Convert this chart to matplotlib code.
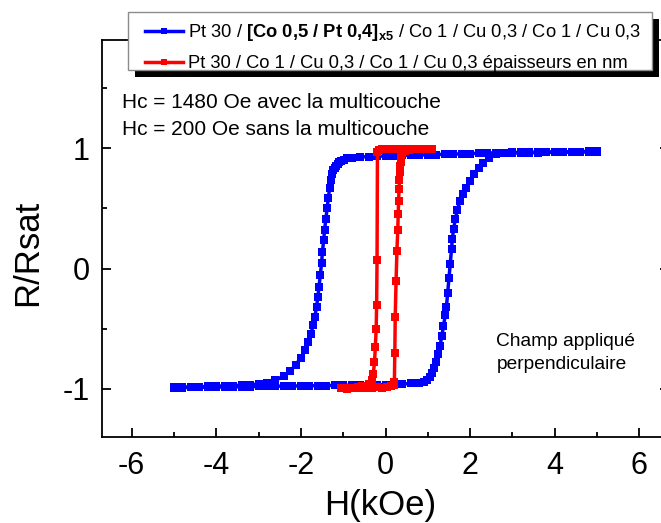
import matplotlib

matplotlib.use("Agg")
import matplotlib.pyplot as plt  # noqa: E402
from matplotlib.lines import Line2D  # noqa: E402
from matplotlib.patches import Rectangle  # noqa: E402
from matplotlib.ticker import MultipleLocator  # noqa: E402

W, H = 661, 523
DPI = 100
BLUE, RED = "#0000ff", "#ff0000"

# multilayer sample, field sweep down then up (kOe, R/Rsat)
blue_down_h = [5.0, 4.8, 4.6, 4.4, 4.2, 4.0, 3.8, 3.6, 3.4, 3.2, 3.0, 2.8, 2.6, 2.4, 2.2,
               2.0, 1.8, 1.6, 1.4, 1.2, 1.0, 0.8, 0.6, 0.4, 0.2, 0.0, -0.2, -0.4, -0.6, -0.8,
               -0.9, -0.98, -1.04, -1.09, -1.13, -1.17, -1.20, -1.23, -1.26, -1.29, -1.32,
               -1.35, -1.38, -1.41, -1.44, -1.46, -1.49, -1.51, -1.54, -1.57, -1.60, -1.63,
               -1.67, -1.71, -1.76, -1.82, -1.90, -2.00, -2.12, -2.25, -2.40, -2.60, -2.80,
               -3.0, -3.2, -3.4, -3.6, -3.8, -4.0, -4.2, -4.4, -4.6, -4.8, -5.0]
blue_down_r = [0.975, 0.974, 0.973, 0.972, 0.971, 0.970, 0.969, 0.968, 0.967, 0.966, 0.965,
               0.963, 0.962, 0.960, 0.958, 0.956, 0.954, 0.952, 0.950, 0.948, 0.946, 0.944,
               0.942, 0.940, 0.938, 0.936, 0.934, 0.931, 0.927, 0.921,
               0.915, 0.905, 0.895, 0.885, 0.87, 0.855, 0.84, 0.82, 0.79, 0.74, 0.67,
               0.59, 0.50, 0.41, 0.32, 0.24, 0.14, 0.05, -0.05, -0.15, -0.24, -0.32,
               -0.40, -0.47, -0.54, -0.61, -0.68, -0.74, -0.80, -0.85, -0.89, -0.93, -0.95,
               -0.960, -0.965, -0.970, -0.972, -0.975, -0.977, -0.980, -0.982, -0.984,
               -0.986, -0.988]

blue_up_h = [-5.0, -4.8, -4.6, -4.4, -4.2, -4.0, -3.8, -3.6, -3.4, -3.2, -3.0, -2.8, -2.6,
             -2.4, -2.2, -2.0, -1.8, -1.6, -1.4, -1.2, -1.0, -0.8, -0.6, -0.4, -0.2, 0.0,
             0.2, 0.4, 0.6, 0.8,
             0.90, 0.97, 1.04, 1.10, 1.15, 1.20, 1.25, 1.29, 1.33, 1.37, 1.41, 1.44, 1.47,
             1.50, 1.53, 1.56, 1.58, 1.61, 1.65, 1.70, 1.76, 1.83, 1.91, 2.00, 2.10, 2.20,
             2.30, 2.45, 2.62, 2.80,
             3.0, 3.2, 3.4, 3.6, 3.8, 4.0, 4.2, 4.4, 4.6, 4.8, 5.0]
blue_up_r = [-0.990, -0.989, -0.988, -0.987, -0.986, -0.985, -0.984, -0.983, -0.982, -0.981,
             -0.980, -0.979, -0.978, -0.977, -0.976, -0.975, -0.974, -0.973, -0.972, -0.971,
             -0.970, -0.969, -0.968, -0.967, -0.966, -0.965, -0.963, -0.960, -0.955, -0.948,
             -0.94, -0.925, -0.90, -0.87, -0.83, -0.78, -0.71, -0.64, -0.56, -0.48, -0.39,
             -0.32, -0.20, -0.08, 0.04, 0.16, 0.25, 0.33, 0.41, 0.49, 0.56, 0.62, 0.67,
             0.73, 0.79, 0.84, 0.88, 0.92, 0.95, 0.957,
             0.960, 0.962, 0.963, 0.964, 0.965, 0.966, 0.967, 0.968, 0.969, 0.970, 0.972]

# reference sample without multilayer
red_down_h = [1.10, 0.95, 0.80, 0.65, 0.50, 0.35, 0.20, 0.05, -0.08, -0.16, -0.19, -0.20,
              -0.21, -0.22, -0.24, -0.26, -0.29, -0.32, -0.38, -0.46, -0.56, -0.66, -0.76,
              -0.86, -0.95, -1.04]
red_down_r = [0.995, 0.993, 0.995, 0.992, 0.994, 0.993, 0.99, 0.992, 0.99, 0.985, 0.97, 0.07,
              -0.30, -0.50, -0.65, -0.78, -0.88, -0.93, -0.96, -0.975, -0.98, -0.985, -0.99,
              -0.99, -0.995, -0.99]
red_up_h = [-1.04, -0.92, -0.80, -0.68, -0.56, -0.44, -0.32, -0.20, -0.08, 0.04, 0.14, 0.19,
            0.21, 0.22, 0.23, 0.25, 0.27, 0.29, 0.30, 0.31, 0.32, 0.33, 0.34, 0.35, 0.36,
            0.37, 0.39, 0.45, 0.55, 0.65, 0.75, 0.85, 0.95, 1.05]
red_up_r = [-0.99, -1.0, -0.995, -0.99, -0.995, -0.99, -0.99, -0.985, -0.99, -0.985, -0.98,
            -0.97, -0.94, -0.70, -0.40, -0.10, 0.15, 0.32, 0.45, 0.56, 0.66, 0.74, 0.80,
            0.85, 0.89, 0.93, 0.96, 0.975, 0.985, 0.99, 0.99, 0.995, 0.99, 0.995]

x_ticks = [-6, -4, -2, 0, 2, 4, 6]
y_ticks = [-1, 0, 1]

LABEL_BLUE = (r"Pt 30 / $\mathbf{[Co\ 0{,}5\ /\ Pt\ 0{,}4]_{x5}}$"
              " / Co 1 / Cu 0,3 / Co 1 / Cu 0,3")
LABEL_RED = "Pt 30 / Co 1 / Cu 0,3 / Co 1 / Cu 0,3 épaisseurs en nm"

plt.rcParams.update({
    "font.family": "Liberation Sans",
    "mathtext.fontset": "custom",
    "mathtext.rm": "Liberation Sans",
    "mathtext.bf": "Liberation Sans:bold",
    "mathtext.it": "Liberation Sans:italic",
})


def fx(x):
    return x / W


def fy(y):
    return 1 - y / H


fig = plt.figure(figsize=(W / DPI, H / DPI), dpi=DPI)
ax = fig.add_axes([fx(102), fy(437), 567 / W, 397 / H])

style = dict(lw=2.5, marker="s", ms=5.5, mew=0)
ax.plot(blue_down_h, blue_down_r, color=BLUE, **style)
ax.plot(blue_up_h, blue_up_r, color=BLUE, **style)
ax.plot(red_down_h, red_down_r, color=RED, **style)
ax.plot(red_up_h, red_up_r, color=RED, **style)

ax.set_xlim(-6.7, 6.7)
ax.set_ylim(-1.4, 1.9)
ax.set_xticks(x_ticks)
ax.set_yticks(y_ticks)
ax.set_xticklabels([str(t) for t in x_ticks])
ax.set_yticklabels([str(t) for t in y_ticks])
ax.xaxis.set_minor_locator(MultipleLocator(1))
ax.yaxis.set_minor_locator(MultipleLocator(0.5))
ax.tick_params(which="both", direction="in", top=True, right=True, width=1.3)
ax.tick_params(which="major", length=6.5, labelsize=22)
ax.tick_params(axis="x", which="major", pad=10)
ax.tick_params(axis="y", which="major", pad=9)
ax.tick_params(which="minor", length=3.5)
for s in ax.spines.values():
    s.set_linewidth(1.3)

fig.text(fx(28), fy(253), "R/Rsat", rotation=90, ha="center", va="center", fontsize=25)
fig.text(fx(380), fy(505), "H(kOe)", ha="center", va="center", fontsize=25)

ax.text(-6.22, 1.338, "Hc = 1480 Oe avec la multicouche", fontsize=15, va="baseline")
ax.text(-6.22, 1.114, "Hc = 200 Oe sans la multicouche", fontsize=15, va="baseline")
ax.text(2.62, -0.64, "Champ appliqué", fontsize=13.8, va="baseline")
ax.text(2.62, -0.834, "perpendiculaire", fontsize=13.8, va="baseline")

# legend drawn by hand to get the black drop shadow
fig.add_artist(Rectangle((fx(135), fy(77)), 524 / W, 58 / H, transform=fig.transFigure,
                         fc="black", ec="none", zorder=5))
fig.add_artist(Rectangle((fx(128), fy(70)), 524 / W, 58 / H, transform=fig.transFigure,
                         fc="white", ec="#8c8c8c", lw=1.0, zorder=6))
for y, col, lab in [(31, BLUE, LABEL_BLUE), (62, RED, LABEL_RED)]:
    fig.add_artist(Line2D([fx(145), fx(183)], [fy(y), fy(y)], transform=fig.transFigure,
                          color=col, lw=2.5, zorder=7))
    fig.add_artist(Line2D([fx(164)], [fy(y)], transform=fig.transFigure, color=col,
                          marker="s", ms=5, mew=0, zorder=7))
    fig.text(fx(188), fy(y + 6), lab, fontsize=13.2, va="baseline", zorder=8)

fig.savefig("out.png", dpi=DPI)
